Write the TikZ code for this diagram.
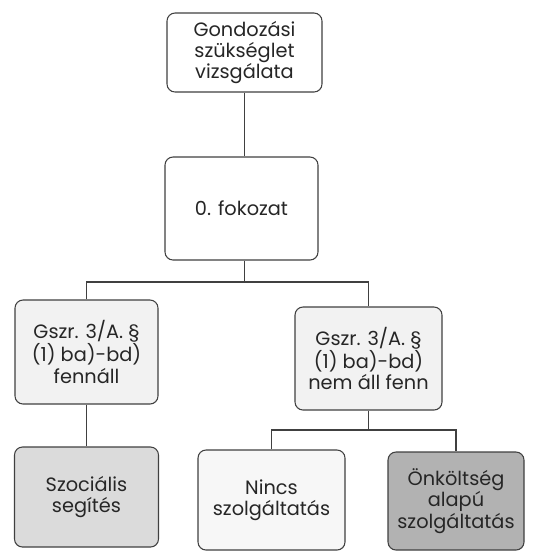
\documentclass[tikz,border=0pt]{standalone}
\usepackage{fontspec}
\setmainfont{Poppins}
\begin{document}
\begin{tikzpicture}[x=0.75pt,y=-0.75pt,
  box/.style={draw=black!75, line width=0.8pt, rounded corners=6pt, align=center, inner sep=0pt,
    font=\fontsize{14.5}{16}\selectfont, text=black!85},
  conn/.style={draw=black!75, line width=0.8pt}]
\useasboundingbox (0,0) rectangle (553,551);
\node[box, fill=white, minimum width=155*0.75pt, minimum height=79*0.75pt] (b1) at (244.5,52.5) {Gondozási\\szükséglet\\vizsgálata};
\node[box, fill=white, minimum width=153*0.75pt, minimum height=103*0.75pt] (b2) at (241.5,208.5) {0. fokozat};
\node[box, fill=black!5, minimum width=143*0.75pt, minimum height=104*0.75pt] (b3) at (86.5,352) {Gszr. 3/A. §\\(1) ba)-bd)\\fennáll};
\node[box, fill=black!5, minimum width=147*0.75pt, minimum height=103*0.75pt] (b4) at (368.5,358.5) {Gszr. 3/A. §\\(1) ba)-bd)\\nem áll fenn};
\node[box, fill=black!14, minimum width=144*0.75pt, minimum height=100*0.75pt] (b5) at (86.5,497) {Szociális\\segítés};
\node[box, fill=black!3, minimum width=147*0.75pt, minimum height=100*0.75pt] (b6) at (271.5,500) {Nincs\\szolgáltatás};
\node[box, fill=black!30, minimum width=136*0.75pt, minimum height=98*0.75pt] (b7) at (456,501) {Önköltség\\alapú\\szolgáltatás};
\draw[conn] (b1.south) -- (b1.south |- b2.north);
\coordinate (j1) at (244.5,282);
\coordinate (j2) at (368.5,430);
\draw[conn] (b2.south -| j1) -- (j1);
\draw[conn] (b3.north) |- (j1) -| (b4.north);
\draw[conn] (b3.south) -- (b5.north);
\draw[conn] (b4.south) -- (j2);
\draw[conn] (b6.north) |- (j2) -| (b7.north);
\end{tikzpicture}
\end{document}
